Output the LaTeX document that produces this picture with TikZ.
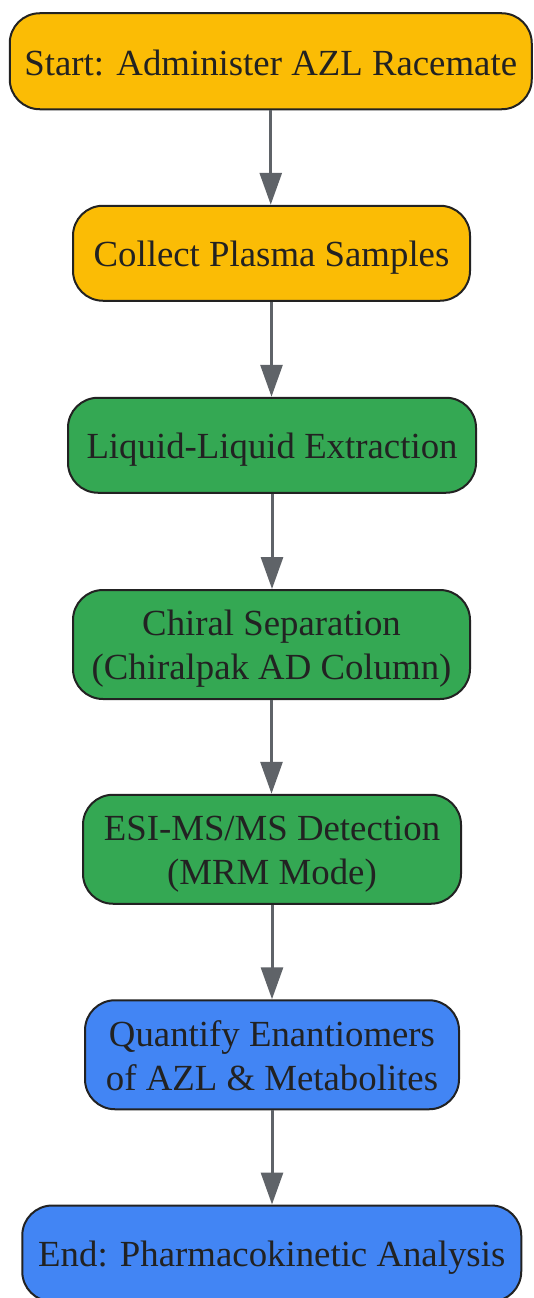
\documentclass[tikz,border=0pt]{standalone}
\usepackage{fontspec}
\setmainfont{Liberation Serif}
\usetikzlibrary{arrows.meta}
\definecolor{gyellow}{HTML}{FBBC05}
\definecolor{ggreen}{HTML}{34A853}
\definecolor{gblue}{HTML}{4285F4}
\definecolor{edgegray}{HTML}{5F6368}
\definecolor{inkdark}{HTML}{222222}
\newcommand{\mystrut}{\rule[-6pt]{0pt}{40pt}}
\tikzset{
  flowbox/.style={draw=inkdark, line width=2pt, rounded corners=30pt,
    inner sep=0pt, align=center, text=inkdark,
    font=\fontsize{36.8}{44}\selectfont},
  yellowbox/.style={flowbox, fill=gyellow},
  greenbox/.style={flowbox, fill=ggreen},
  bluebox/.style={flowbox, fill=gblue},
  flowarrow/.style={draw=edgegray, line width=3pt,
    -{Triangle[length=32pt,width=22pt]}}
}
\begin{document}
\begin{tikzpicture}[x=1pt,y=-1pt]
\useasboundingbox (0,0) rectangle (533,1298);
\node[yellowbox, minimum width=522pt, minimum height=96pt] (n1) at (270.75,61.25)
  {\mystrut Start: Administer AZL Racemate};
\node[yellowbox, minimum width=397pt, minimum height=95pt] (n2) at (271.5,253.25)
  {\mystrut Collect Plasma Samples};
\node[greenbox, minimum width=408pt, minimum height=95pt] (n3) at (272,445.25)
  {\mystrut Liquid-Liquid Extraction};
\node[greenbox, minimum width=397pt, minimum height=109pt] (n4) at (271.5,644.5)
  {\mystrut Chiral Separation\\\mystrut (Chiralpak AD Column)};
\node[greenbox, minimum width=378pt, minimum height=109pt] (n5) at (272,849.25)
  {\mystrut ESI-MS/MS Detection\\\mystrut (MRM Mode)};
\node[bluebox, minimum width=374pt, minimum height=109pt] (n6) at (272,1054.75)
  {\mystrut Quantify Enantiomers\\\mystrut of AZL \& Metabolites};
\node[bluebox, minimum width=499pt, minimum height=96pt] (n7) at (271.75,1253.5)
  {\mystrut End: Pharmacokinetic Analysis};
\draw[flowarrow] (n1.south) -- (n1.south |- n2.north);
\draw[flowarrow] (n2.south) -- (n2.south |- n3.north);
\draw[flowarrow] (n3.south) -- (n3.south |- n4.north);
\draw[flowarrow] (n4.south) -- (n4.south |- n5.north);
\draw[flowarrow] (n5.south) -- (n5.south |- n6.north);
\draw[flowarrow] (n6.south) -- (n6.south |- n7.north);
\end{tikzpicture}
\end{document}
